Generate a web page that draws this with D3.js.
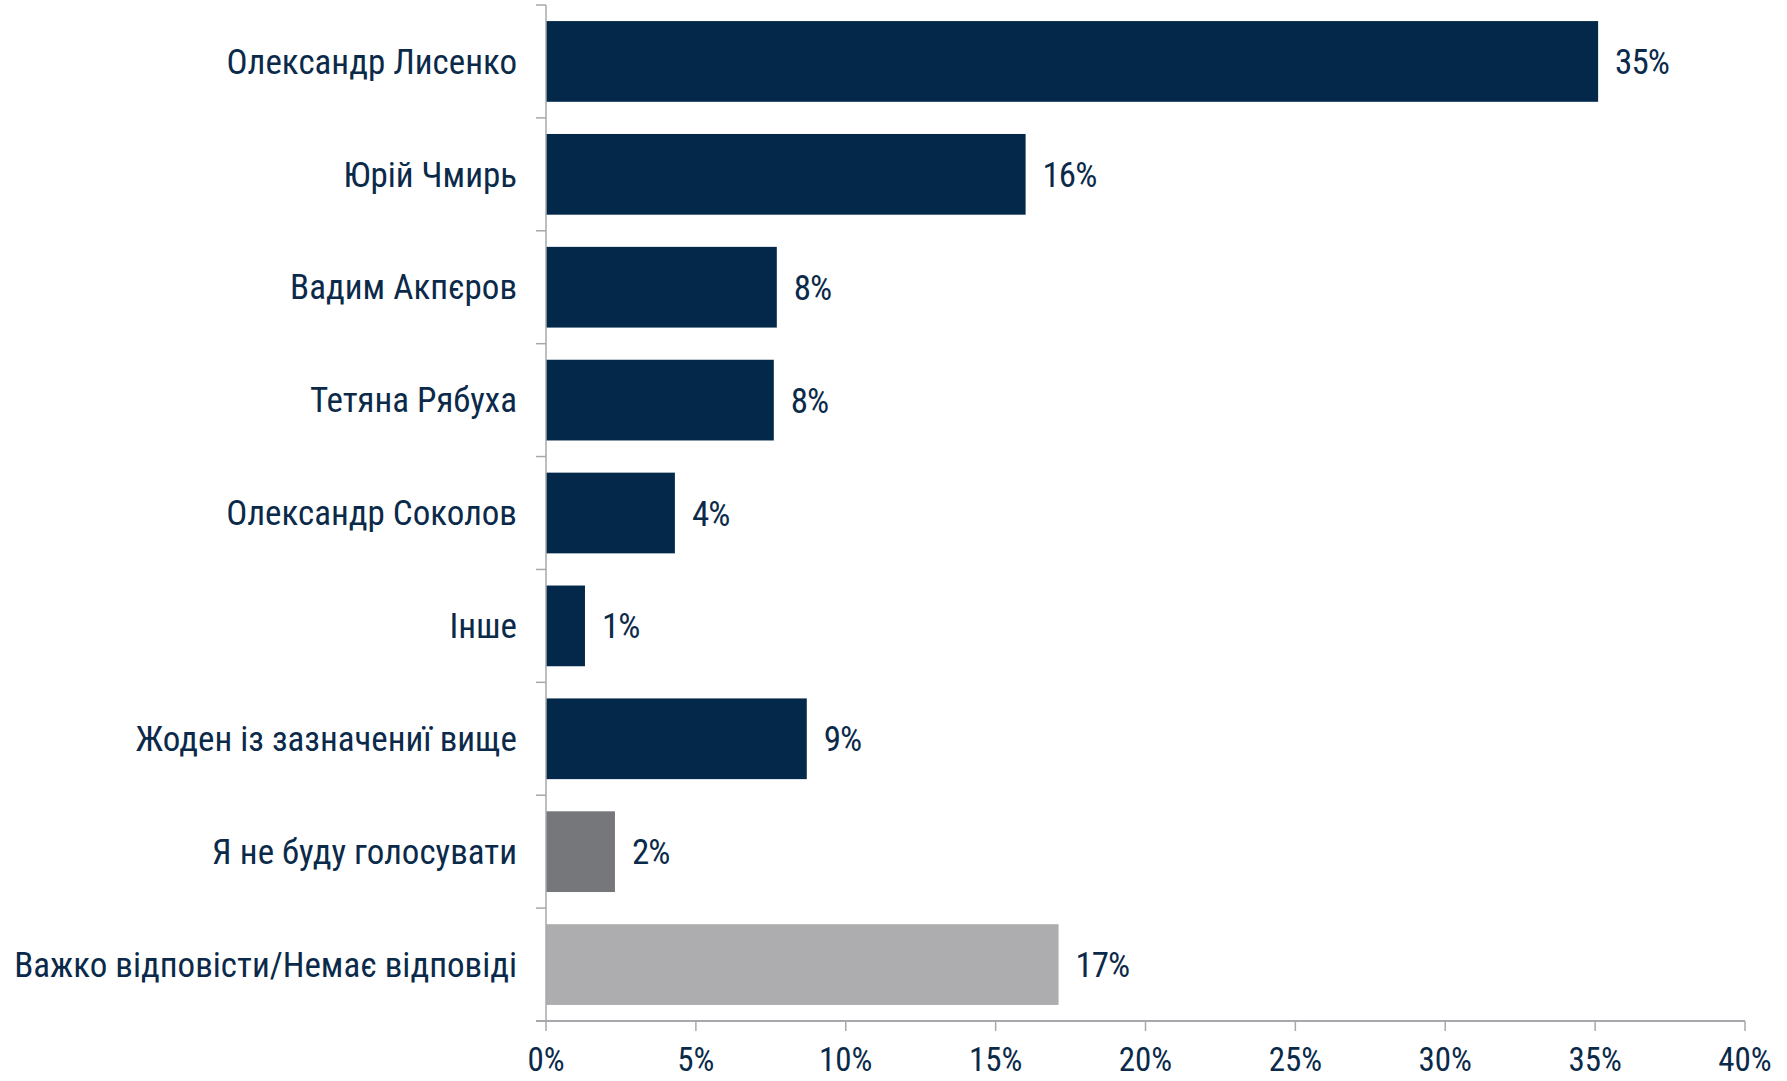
<!DOCTYPE html>
<html><head><meta charset="utf-8">
<script src="https://cdn.jsdelivr.net/npm/d3@7"></script>
<style>
body{margin:0;background:#fff}
text{font-family:Roboto,"DejaVu Sans",sans-serif;font-stretch:condensed;fill:#0b2a4a}
</style>
</head><body>
<svg id="c" width="1787" height="1081"></svg>
<script>
const categories = ["Олександр Лисенко","Юрій Чмирь","Вадим Акпєров","Тетяна Рябуха","Олександр Соколов","Інше","Жоден із зазначениї вище","Я не буду голосувати","Важко відповісти/Немає відповіді"];
const values = [35.1,16.0,7.7,7.6,4.3,1.3,8.7,2.3,17.1];
const barColors = ["#03284a","#03284a","#03284a","#03284a","#03284a","#03284a","#03284a","#76777b","#adadaf"];
const xTicks = [0,5,10,15,20,25,30,35,40];

const data = categories.map((c,i)=>({cat:c, v:values[i], color:barColors[i]}));
const svg = d3.select("#c");
const axisColor = "#a6a8ab";

const x = d3.scaleLinear().domain([0,40]).range([546,1745]);
const y = d3.scaleBand().domain(categories).range([5,1021]).paddingInner(0.285).paddingOuter(0.1425);

// bars
svg.append("g").selectAll("rect").data(data).join("rect")
  .attr("x", x(0)).attr("y", d=>y(d.cat))
  .attr("width", d=>x(d.v)-x(0)).attr("height", y.bandwidth())
  .attr("fill", d=>d.color);

// y axis line and ticks at band boundaries
const step = y.step();
const boundaries = d3.range(categories.length+1).map(i=>5 + i*step);
svg.append("line").attr("x1",x(0)).attr("x2",x(0)).attr("y1",boundaries[0]).attr("y2",boundaries[boundaries.length-1])
  .attr("stroke",axisColor).attr("stroke-width",1.5);
svg.append("g").selectAll("line").data(boundaries.slice(0,-1)).join("line")
  .attr("x1",x(0)-10).attr("x2",x(0)).attr("y1",d=>d).attr("y2",d=>d)
  .attr("stroke",axisColor).attr("stroke-width",1.5);

// x axis
const xAxisY = boundaries[boundaries.length-1];
svg.append("line").attr("x1",x(0)-10).attr("x2",x(40)).attr("y1",xAxisY).attr("y2",xAxisY)
  .attr("stroke",axisColor).attr("stroke-width",1.8);
svg.append("g").selectAll("line").data(xTicks).join("line")
  .attr("x1",d=>x(d)).attr("x2",d=>x(d)).attr("y1",xAxisY).attr("y2",xAxisY+10)
  .attr("stroke",axisColor).attr("stroke-width",1.5);
svg.append("g").selectAll("text").data(xTicks).join("text")
  .attr("x",d=>x(d)).attr("y",xAxisY+50)
  .attr("text-anchor","middle").style("font-size","33px")
  .text(d=>d+"%");

// category labels
svg.append("g").selectAll("text").data(data).join("text")
  .attr("x",x(0)-29).attr("y",d=>y(d.cat)+y.bandwidth()/2)
  .attr("dy","0.35em").attr("text-anchor","end").style("font-size","35px")
  .text(d=>d.cat);

// value labels
svg.append("g").selectAll("text").data(data).join("text")
  .attr("x",d=>x(d.v)+17).attr("y",d=>y(d.cat)+y.bandwidth()/2)
  .attr("dy","0.36em").style("font-size","35px").style("letter-spacing","-1px")
  .text(d=>Math.round(d.v)+"%");
</script>
</body></html>
